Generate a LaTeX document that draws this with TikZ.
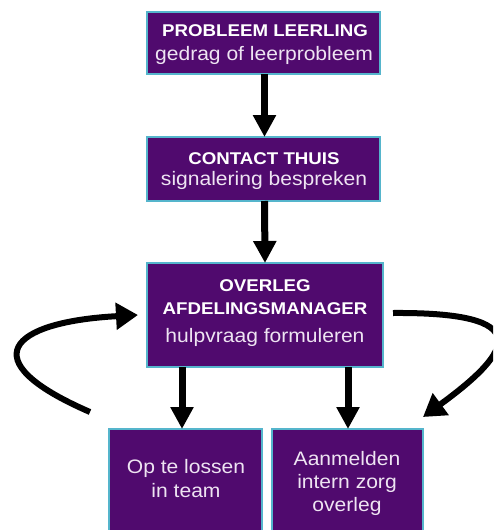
\documentclass[tikz,border=0pt]{standalone}
\usepackage{fontspec}
\setmainfont{Liberation Sans}
\newfontfamily\ttlfont[FakeStretch=1.1]{Liberation Sans}
\newfontfamily\subfont[FakeStretch=1.08]{Liberation Sans}
\usetikzlibrary{arrows.meta}
\definecolor{boxpurple}{HTML}{500A6E}
\definecolor{boxedge}{HTML}{55B5CC}
\definecolor{subtxt}{HTML}{EEE4F2}
\begin{document}
\begin{tikzpicture}[x=1pt,y=-1pt,
  box/.style={draw=boxedge, line width=2pt, fill=boxpurple, inner sep=0pt, outer sep=0pt},
  ttl/.style={text=white, font=\ttlfont\bfseries\fontsize{17}{20}\selectfont, anchor=base, inner sep=0pt},
  sub/.style={text=subtxt, font=\subfont\fontsize{19.5}{23}\selectfont, anchor=base, inner sep=0pt},
  varrow/.style={line width=7pt, -{Triangle[width=22pt,length=22pt]}},
  carrow/.style={line width=6pt, -{Triangle[width=26pt,length=22pt]}}]
\clip (0,0) rectangle (493,530);
% boxes
\node[box, minimum width=233pt, minimum height=62pt] (b1) at (263.5,43) {};
\node[box, minimum width=233pt, minimum height=64pt] (b2) at (263.5,169) {};
\node[box, minimum width=236pt, minimum height=104pt] (b3) at (265,315) {};
\node[box, minimum width=153pt, minimum height=111pt] (b4) at (185.5,484.5) {};
\node[box, minimum width=151pt, minimum height=111pt] (b5) at (347.5,484.5) {};
% texts
\node[ttl] (t1a) at (265,36) {PROBLEEM LEERLING};
\node[sub] (t1b) at (264,60) {gedrag of leerprobleem};
\node[ttl] (t2a) at (264,164) {CONTACT THUIS};
\node[sub] (t2b) at (264,185) {signalering bespreken};
\node[ttl] (t3a) at (265,291) {OVERLEG};
\node[ttl] (t3b) at (265,314) {AFDELINGSMANAGER};
\node[sub] (t3c) at (265,342) {hulpvraag formuleren};
\node[sub] (t4a) at (186,473) {Op te lossen};
\node[sub] (t4b) at (186,497) {in team};
\node[sub] (t5a) at (347,465) {Aanmelden};
\node[sub] (t5b) at (347,488) {intern zorg};
\node[sub] (t5c) at (347,511) {overleg};
% vertical arrows
\draw[varrow] ([xshift=1pt]b1.south) -- ([xshift=1pt]b2.north);
\draw[varrow] ([xshift=1pt]b2.south) -- ([xshift=0pt]b3.north);
\draw[varrow] ([xshift=-83pt]b3.south) -- ([xshift=-83pt]b3.south |- b4.north);
\draw[varrow] ([xshift=83pt]b3.south) -- ([xshift=83pt]b3.south |- b5.north);
% curved arrows
\coordinate (l0) at (90,412);
\draw[carrow] (l0) .. controls (-30,360) and (10,322) .. ([xshift=-9pt]b3.west);
\draw[carrow] ([xshift=10pt,yshift=2pt]b3.east) .. controls (535,312) and (515,350) .. ([yshift=12pt]b5.north east);
\end{tikzpicture}
\end{document}
